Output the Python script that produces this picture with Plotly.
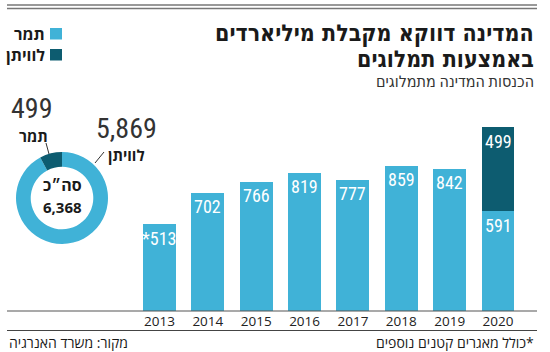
import plotly.graph_objects as go

W, H = 550, 352

years = ["2013", "2014", "2015", "2016", "2017", "2018", "2019", "2020"]
tamar = [513, 702, 766, 819, 777, 859, 842, 591]
leviathan = [None, None, None, None, None, None, None, 499]
starred_years = ["2013"]

donut_labels = ["לוויתן", "תמר"]
donut_values = [5869, 499]

series_names = ["תמר", "לוויתן"]
LIGHT = "#40B2D7"
DARK = "#0D5C70"

title_lines = ["המדינה דווקא מקבלת מיליארדים", "באמצעות תמלוגים"]
subtitle = "הכנסות המדינה מתמלוגים"
source_text = "מקור: משרד האנרגיה"
note_text = "\u200F*כולל מאגרים קטנים נוספים"
total_label = "סה״כ"

HEB = "Open Sans, Liberation Sans, DejaVu Sans, sans-serif"
TITLE = "DejaVu Sans Condensed, Open Sans, DejaVu Sans, sans-serif"
NARROW = "Roboto Condensed, Liberation Sans Narrow, DejaVu Sans Condensed, Roboto, sans-serif"


def px(x):
    return x / W


def py(y):
    return 1 - y / H


base_px = 311
top_val = 1200
top_px = base_px - top_val * 184 / 1090

fig = go.Figure()
fig.add_trace(go.Bar(x=years, y=tamar, name=series_names[0], marker_color=LIGHT,
                     width=0.68, marker_line_width=0, hoverinfo="skip"))
fig.add_trace(go.Bar(x=years, y=leviathan, name=series_names[1], marker_color=DARK,
                     width=0.68, marker_line_width=0, hoverinfo="skip"))

cx, cy, r = 62, 198, 46
fig.add_trace(go.Pie(labels=donut_labels, values=donut_values, hole=0.68, sort=False,
                     direction="clockwise", rotation=0, textinfo="none",
                     marker=dict(colors=[LIGHT, DARK], line=dict(width=0)),
                     domain=dict(x=[px(cx - r), px(cx + r)], y=[py(cy + r), py(cy - r)]),
                     showlegend=False, hoverinfo="skip"))

annotations = []

# value labels inside bars near top (category index on the x axis, value on the y axis)
bar_font = dict(family=NARROW, size=18, color="white")
for i, (yr, t, l) in enumerate(zip(years, tamar, leviathan)):
    txt = ("*" if yr in starred_years else "") + f"{t}"
    annotations.append(dict(x=i, y=t, xref="x", yref="y", text=txt, showarrow=False,
                            yanchor="middle", yshift=-14, font=bar_font))
    if l:
        annotations.append(dict(x=i, y=t + l, xref="x", yref="y", text=f"{l}", showarrow=False,
                                yanchor="middle", yshift=-14, font=bar_font))


def ann(x, y, text, font, xanchor="center"):
    annotations.append(dict(x=px(x), y=py(y), xref="paper", yref="paper", xanchor=xanchor,
                            yanchor="middle", text=text, showarrow=False, font=font))


# title
ann(536, 33, title_lines[0], dict(family=TITLE, size=23, color="#1a1a1a", weight=800), "right")
ann(536, 59, title_lines[1], dict(family=TITLE, size=23, color="#1a1a1a", weight=800), "right")
ann(536, 81, subtitle, dict(family=NARROW, size=16, color="#333333"), "right")

# legend
for i, nm in enumerate(series_names):
    ann(47, 34 + i * 21, f"<b>{nm}</b>", dict(family=HEB, size=16, color="#1a1a1a"), "right")

# donut labels
ann(31, 108, f"{donut_values[1]:,}", dict(family=NARROW, size=28, color="#333333"))
ann(33, 136, f"<b>{donut_labels[1]}</b>", dict(family=HEB, size=15, color="#1a1a1a"))
ann(126, 128, f"{donut_values[0]:,}", dict(family=NARROW, size=28, color="#333333"))
ann(126, 155, f"<b>{donut_labels[0]}</b>", dict(family=HEB, size=15, color="#1a1a1a"))
ann(cx, 185, f"<b>{total_label}</b>", dict(family=HEB, size=16, color="#1a1a1a"))
ann(cx, 207, f"<b>{sum(donut_values):,}</b>", dict(family=HEB, size=15, color="#1a1a1a"))

# footer
ann(7, 342, source_text, dict(family=HEB, size=14, color="#1a1a1a"), "left")
ann(536, 342, note_text, dict(family=HEB, size=14, color="#1a1a1a"), "right")

shapes = [
    dict(type="line", xref="paper", yref="paper", x0=px(7), x1=px(537), y0=py(5), y1=py(5),
         line=dict(color="#777777", width=1.5)),
    dict(type="line", xref="paper", yref="paper", x0=px(7), x1=px(537), y0=py(8.5), y1=py(8.5),
         line=dict(color="#777777", width=1.5)),
    dict(type="line", xref="paper", yref="paper", x0=px(7), x1=px(537), y0=py(base_px), y1=py(base_px),
         line=dict(color="#555555", width=1.2)),
    dict(type="line", xref="paper", yref="paper", x0=px(7), x1=px(537), y0=py(330.5), y1=py(330.5),
         line=dict(color="#444444", width=1)),
    dict(type="line", xref="paper", yref="paper", x0=px(46), x1=px(49), y0=py(143), y1=py(154),
         line=dict(color="#333333", width=1)),
    dict(type="line", xref="paper", yref="paper", x0=px(104), x1=px(95), y0=py(152), y1=py(163),
         line=dict(color="#333333", width=1)),
]
for i, col in enumerate([LIGHT, DARK]):
    y0 = 28 + i * 21
    shapes.append(dict(type="rect", xref="paper", yref="paper", x0=px(50), x1=px(62),
                       y0=py(y0), y1=py(y0 + 11.5), fillcolor=col, line=dict(width=0)))

fig.update_layout(
    width=W, height=H,
    margin=dict(l=0, r=0, t=0, b=0),
    paper_bgcolor="white", plot_bgcolor="white",
    barmode="stack", showlegend=False,
    xaxis=dict(domain=[px(135.3), px(522.2)], range=[-0.5, 7.5], type="category",
               showline=False, showgrid=False, zeroline=False, ticks="",
               tickfont=dict(family=HEB, size=13.5, color="#222222"), anchor="y"),
    yaxis=dict(domain=[py(base_px), py(top_px)], range=[0, top_val], visible=False,
               showgrid=False, zeroline=False),
    annotations=annotations, shapes=shapes,
)

fig.write_html("out.html")
